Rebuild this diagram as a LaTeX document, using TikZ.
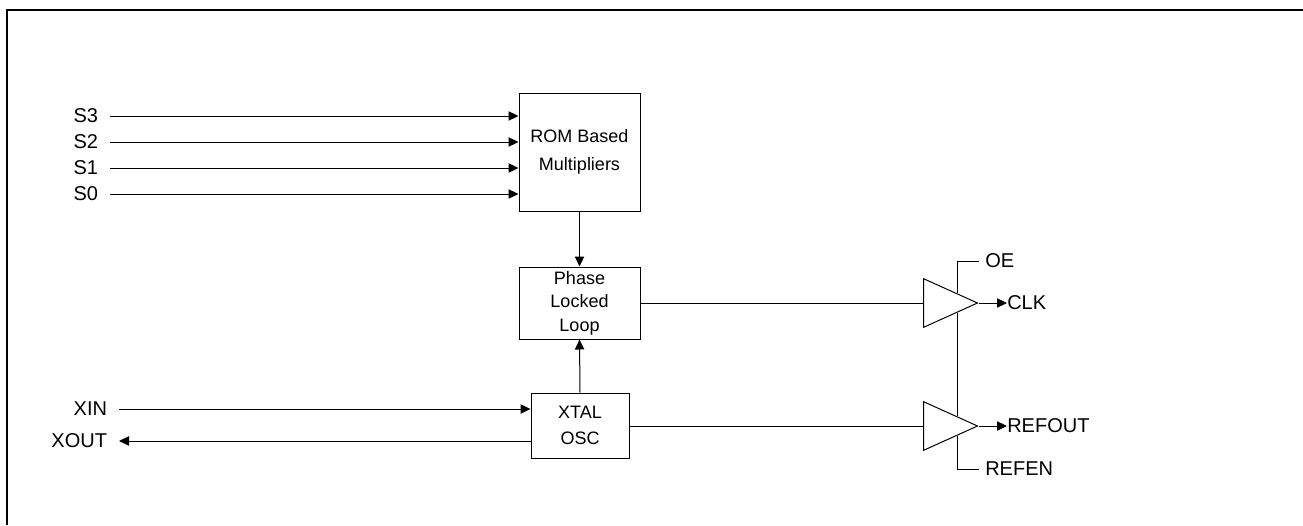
\documentclass[tikz,border=0pt]{standalone}
\usepackage{fontspec}
\setmainfont{Liberation Sans}
\usepackage{tikz}
\usetikzlibrary{arrows.meta, positioning, calc, shapes.geometric}

\begin{document}
\begin{tikzpicture}[x=0.75pt, y=-0.75pt,
  >={Triangle[length=7.5pt,width=7pt]},
  every node/.style={font=\fontsize{15}{17}\selectfont},
  bloco/.style={draw, line width=0.75pt, inner sep=0pt, align=center, font=\fontsize{13.5}{21}\selectfont},
  entrada/.style={anchor=east, inner sep=0pt, outer xsep=9pt, outer ysep=0pt},
  saida/.style={anchor=west, inner sep=0pt},
  controle/.style={anchor=west, inner xsep=4.5pt, inner ysep=0pt},
  buffer/.style={draw, line width=0.75pt, isosceles triangle, isosceles triangle stretches,
    shape border rotate=0, minimum width=36.5pt, minimum height=40.5pt, inner sep=0pt, anchor=west},
  fio/.style={line width=0.75pt}]

\useasboundingbox (0,0) rectangle (1303,525);

% Moldura
\draw[line width=1.5pt] (7,525) -- (7,10) -- (1303,10);

% Blocos
\node[bloco, minimum width=90.75pt, minimum height=88.5pt] (rom) at (579.5,152) {ROM Based\\Multipliers};
\node[bloco, minimum width=90.75pt, minimum height=54pt, font=\fontsize{13.5}{17.6}\selectfont] (pll) at (579.5,303) {Phase\\Locked\\Loop};
\node[bloco, minimum width=73.5pt, minimum height=48.75pt, font=\fontsize{13.5}{20}\selectfont] (xtal) at (580,425.5) {XTAL\\OSC};

% Entradas de selecao
\node[entrada] (s3) at (110,116) {S3};
\node[entrada] (s2) at (110,142) {S2};
\node[entrada] (s1) at (110,168) {S1};
\node[entrada] (s0) at (110,194) {S0};
\draw[fio,->] (s3.east) -- (s3.east -| rom.west);
\draw[fio,->] (s2.east) -- (s2.east -| rom.west);
\draw[fio,->] (s1.east) -- (s1.east -| rom.west);
\draw[fio,->] (s0.east) -- (s0.east -| rom.west);

% Cristal
\node[entrada] (xin) at (119,409) {XIN};
\node[entrada] (xout) at (119,441) {XOUT};
\draw[fio,->] (xin.east) -- (xin.east -| xtal.west);
\draw[fio,<-] (xout.east) -- (xout.east -| xtal.west);

% Ligacoes entre blocos
\draw[fio,->] (rom.south) -- (pll.north);
\draw[fio,->] (xtal.north) -- (pll.south);

% Buffers de saida
\node[buffer] (b1) at (923,303) {};
\node[buffer] (b2) at (923,426) {};
\draw[fio] (pll.east) -- (b1.west);
\draw[fio] (xtal.east |- b2.west) -- (b2.west);

\node[saida] (clk) at (1007,303) {CLK};
\node[saida] (refout) at (1007,426) {REFOUT};
\draw[fio,->] (b1.east) -- (clk.west);
\draw[fio,->] (b2.east) -- (refout.west);

% Habilitacao
\coordinate (b1up) at ($(b1.west)!0.62!(b1.east) + (0,-10.3)$);
\coordinate (b1dn) at ($(b1.west)!0.62!(b1.east) + (0,10.3)$);
\coordinate (b2up) at ($(b2.west)!0.62!(b2.east) + (0,-10.3)$);
\coordinate (b2dn) at ($(b2.west)!0.62!(b2.east) + (0,10.3)$);
\node[controle] (oe) at (979,261) {OE};
\node[controle] (refen) at (979,469) {REFEN};
\draw[fio] (b1up) |- (oe.west);
\draw[fio] (b1dn) -- (b2up);
\draw[fio] (b2dn) |- (refen.west);

\end{tikzpicture}
\end{document}
